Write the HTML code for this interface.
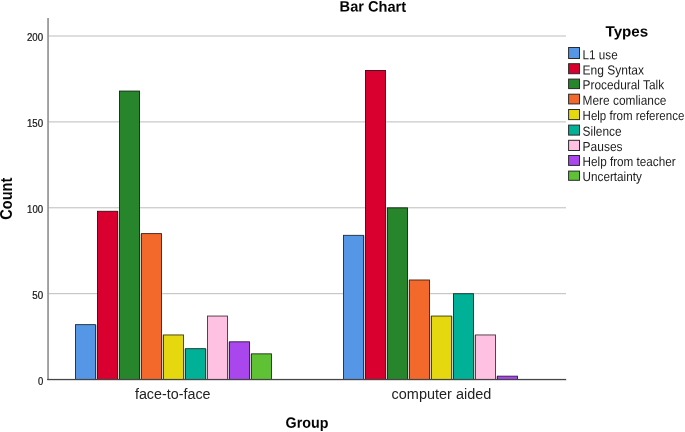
<!DOCTYPE html>
<html><head><meta charset="utf-8"><title>Bar Chart</title>
<style>
html,body{margin:0;padding:0;background:#fff;}
body{width:685px;height:432px;overflow:hidden;}
svg{display:block;font-family:"Liberation Sans",Arial,sans-serif;}
.t{fill:#141414;stroke:#141414;stroke-width:0.22px;}
.l{fill:#1c1c1c;}
.c{fill:#222;}
.b{fill:#050505;}
</style></head><body>
<svg width="685" height="432" viewBox="0 0 685 432">
<rect width="685" height="432" fill="#fff"/>

<rect x="48" y="293.02" width="518" height="1.2" fill="#c8c8c8"/>
<rect x="48" y="207.15" width="518" height="1.2" fill="#c8c8c8"/>
<rect x="48" y="121.28" width="518" height="1.2" fill="#c8c8c8"/>
<rect x="48" y="35.40" width="518" height="1.2" fill="#c8c8c8"/>
<rect x="96.00" y="324.64" width="1" height="54.86" fill="#cdcdcd"/>
<rect x="118.00" y="211.28" width="1" height="168.22" fill="#cdcdcd"/>
<rect x="140.00" y="233.61" width="1" height="145.89" fill="#cdcdcd"/>
<rect x="162.00" y="334.95" width="1" height="44.55" fill="#cdcdcd"/>
<rect x="184.00" y="348.69" width="1" height="30.81" fill="#cdcdcd"/>
<rect x="206.00" y="348.69" width="1" height="30.81" fill="#cdcdcd"/>
<rect x="228.00" y="341.81" width="1" height="37.69" fill="#cdcdcd"/>
<rect x="250.00" y="353.84" width="1" height="25.66" fill="#cdcdcd"/>
<rect x="364.00" y="235.33" width="1" height="144.17" fill="#cdcdcd"/>
<rect x="386.00" y="207.85" width="1" height="171.65" fill="#cdcdcd"/>
<rect x="408.00" y="279.99" width="1" height="99.51" fill="#cdcdcd"/>
<rect x="430.00" y="316.05" width="1" height="63.45" fill="#cdcdcd"/>
<rect x="452.00" y="316.05" width="1" height="63.45" fill="#cdcdcd"/>
<rect x="474.00" y="334.95" width="1" height="44.55" fill="#cdcdcd"/>
<rect x="496.00" y="376.17" width="1" height="3.33" fill="#cdcdcd"/>
<rect x="75.50" y="324.64" width="20.0" height="54.86" fill="#5596e6" stroke="#1c2b3c" stroke-width="0.9"/>
<rect x="97.50" y="211.28" width="20.0" height="168.22" fill="#d9002f" stroke="#390a14" stroke-width="0.9"/>
<rect x="119.50" y="91.06" width="20.0" height="288.44" fill="#27862b" stroke="#122713" stroke-width="0.9"/>
<rect x="141.50" y="233.61" width="20.0" height="145.89" fill="#f3692b" stroke="#3f2113" stroke-width="0.9"/>
<rect x="163.50" y="334.95" width="20.0" height="44.55" fill="#e6d80f" stroke="#3c390d" stroke-width="0.9"/>
<rect x="185.50" y="348.69" width="20.0" height="30.81" fill="#00b197" stroke="#0a302b" stroke-width="0.9"/>
<rect x="207.50" y="316.05" width="20.0" height="63.45" fill="#ffc1e1" stroke="#42343b" stroke-width="0.9"/>
<rect x="229.50" y="341.81" width="20.0" height="37.69" fill="#aa46ee" stroke="#2f193e" stroke-width="0.9"/>
<rect x="251.50" y="353.84" width="20.0" height="25.66" fill="#5ec234" stroke="#1e3415" stroke-width="0.9"/>
<rect x="343.50" y="235.33" width="20.0" height="144.17" fill="#5596e6" stroke="#1c2b3c" stroke-width="0.9"/>
<rect x="365.50" y="70.45" width="20.0" height="309.05" fill="#d9002f" stroke="#390a14" stroke-width="0.9"/>
<rect x="387.50" y="207.85" width="20.0" height="171.65" fill="#27862b" stroke="#122713" stroke-width="0.9"/>
<rect x="409.50" y="279.99" width="20.0" height="99.51" fill="#f3692b" stroke="#3f2113" stroke-width="0.9"/>
<rect x="431.50" y="316.05" width="20.0" height="63.45" fill="#e6d80f" stroke="#3c390d" stroke-width="0.9"/>
<rect x="453.50" y="293.73" width="20.0" height="85.77" fill="#00b197" stroke="#0a302b" stroke-width="0.9"/>
<rect x="475.50" y="334.95" width="20.0" height="44.55" fill="#ffc1e1" stroke="#42343b" stroke-width="0.9"/>
<rect x="497.50" y="376.17" width="20.0" height="3.33" fill="#aa46ee" stroke="#2f193e" stroke-width="0.9"/>
<rect x="47.2" y="18" width="1.7" height="362" fill="#949494"/>
<rect x="47.2" y="378.9" width="519" height="1.3" fill="#454545"/>
<text class="t" style="font-size:10.3px;" transform="translate(37.90,385.15) rotate(0) scale(0.9184,1)">0</text>
<text class="t" style="font-size:10.3px;" transform="translate(32.30,299.28) rotate(0) scale(0.9490,1)">50</text>
<text class="t" style="font-size:10.3px;" transform="translate(27.10,213.40) rotate(0) scale(0.9331,1)">100</text>
<text class="t" style="font-size:10.3px;" transform="translate(26.90,127.12) rotate(0) scale(0.9447,1)">150</text>
<text class="t" style="font-size:10.3px;" transform="translate(26.90,41.05) rotate(0) scale(0.9447,1)">200</text>
<text class="c" style="font-size:14.4px;" transform="translate(134.90,398.70) rotate(0) scale(0.9956,1)">face-to-face</text>
<text class="c" style="font-size:14.4px;" transform="translate(391.60,398.70) rotate(0) scale(1.0052,1)">computer aided</text>
<text class="b" style="font-size:15.0px;font-weight:bold;" transform="translate(285.60,427.85) rotate(0.05) scale(0.9533,1)">Group</text>
<text class="b" style="font-size:15.0px;font-weight:bold;" transform="translate(339.60,11.60) rotate(0.05) scale(0.9733,1)">Bar Chart</text>
<text class="b" style="font-size:15.6px;font-weight:bold;" transform="translate(12.30,219.70) rotate(-90) scale(0.9338,1)">Count</text>
<text class="b" style="font-size:14.9px;font-weight:bold;" transform="translate(605.50,36.40) rotate(0.05) scale(1.0180,1)">Types</text>
<rect x="568.6" y="47.50" width="10.9" height="11.00" fill="#5596e6" stroke="#2a2a2a" stroke-width="1"/>
<text class="l" style="font-size:13.1px;" transform="translate(582.60,59.20) rotate(0.03) scale(0.8916,1)">L1 use</text>
<rect x="568.6" y="63.70" width="10.9" height="10.00" fill="#d9002f" stroke="#2a2a2a" stroke-width="1"/>
<text class="l" style="font-size:13.1px;" transform="translate(582.60,74.50) rotate(0.03) scale(0.9178,1)">Eng Syntax</text>
<rect x="568.6" y="79.10" width="10.9" height="9.50" fill="#27862b" stroke="#2a2a2a" stroke-width="1"/>
<text class="l" style="font-size:13.1px;" transform="translate(582.60,89.30) rotate(0.03) scale(0.9054,1)">Procedural Talk</text>
<rect x="568.6" y="94.20" width="10.9" height="9.70" fill="#f3692b" stroke="#2a2a2a" stroke-width="1"/>
<text class="l" style="font-size:13.1px;" transform="translate(582.60,104.70) rotate(0.03) scale(0.9072,1)">Mere comliance</text>
<rect x="568.6" y="109.50" width="10.9" height="10.10" fill="#e6d80f" stroke="#2a2a2a" stroke-width="1"/>
<text class="l" style="font-size:13.1px;" transform="translate(582.60,120.00) rotate(0.03) scale(0.8787,1)">Help from reference</text>
<rect x="568.6" y="125.10" width="10.9" height="10.00" fill="#00b197" stroke="#2a2a2a" stroke-width="1"/>
<text class="l" style="font-size:13.1px;" transform="translate(582.60,135.70) rotate(0.03) scale(0.9077,1)">Silence</text>
<rect x="568.6" y="140.30" width="10.9" height="10.20" fill="#ffc1e1" stroke="#2a2a2a" stroke-width="1"/>
<text class="l" style="font-size:13.1px;" transform="translate(582.60,151.10) rotate(0.03) scale(0.9156,1)">Pauses</text>
<rect x="568.6" y="155.50" width="10.9" height="9.90" fill="#aa46ee" stroke="#2a2a2a" stroke-width="1"/>
<text class="l" style="font-size:13.1px;" transform="translate(582.60,166.00) rotate(0.03) scale(0.8939,1)">Help from teacher</text>
<rect x="568.6" y="171.10" width="10.9" height="9.20" fill="#5ec234" stroke="#2a2a2a" stroke-width="1"/>
<text class="l" style="font-size:13.1px;" transform="translate(582.60,180.90) rotate(0.03) scale(0.8946,1)">Uncertainty</text>
</svg></body></html>
